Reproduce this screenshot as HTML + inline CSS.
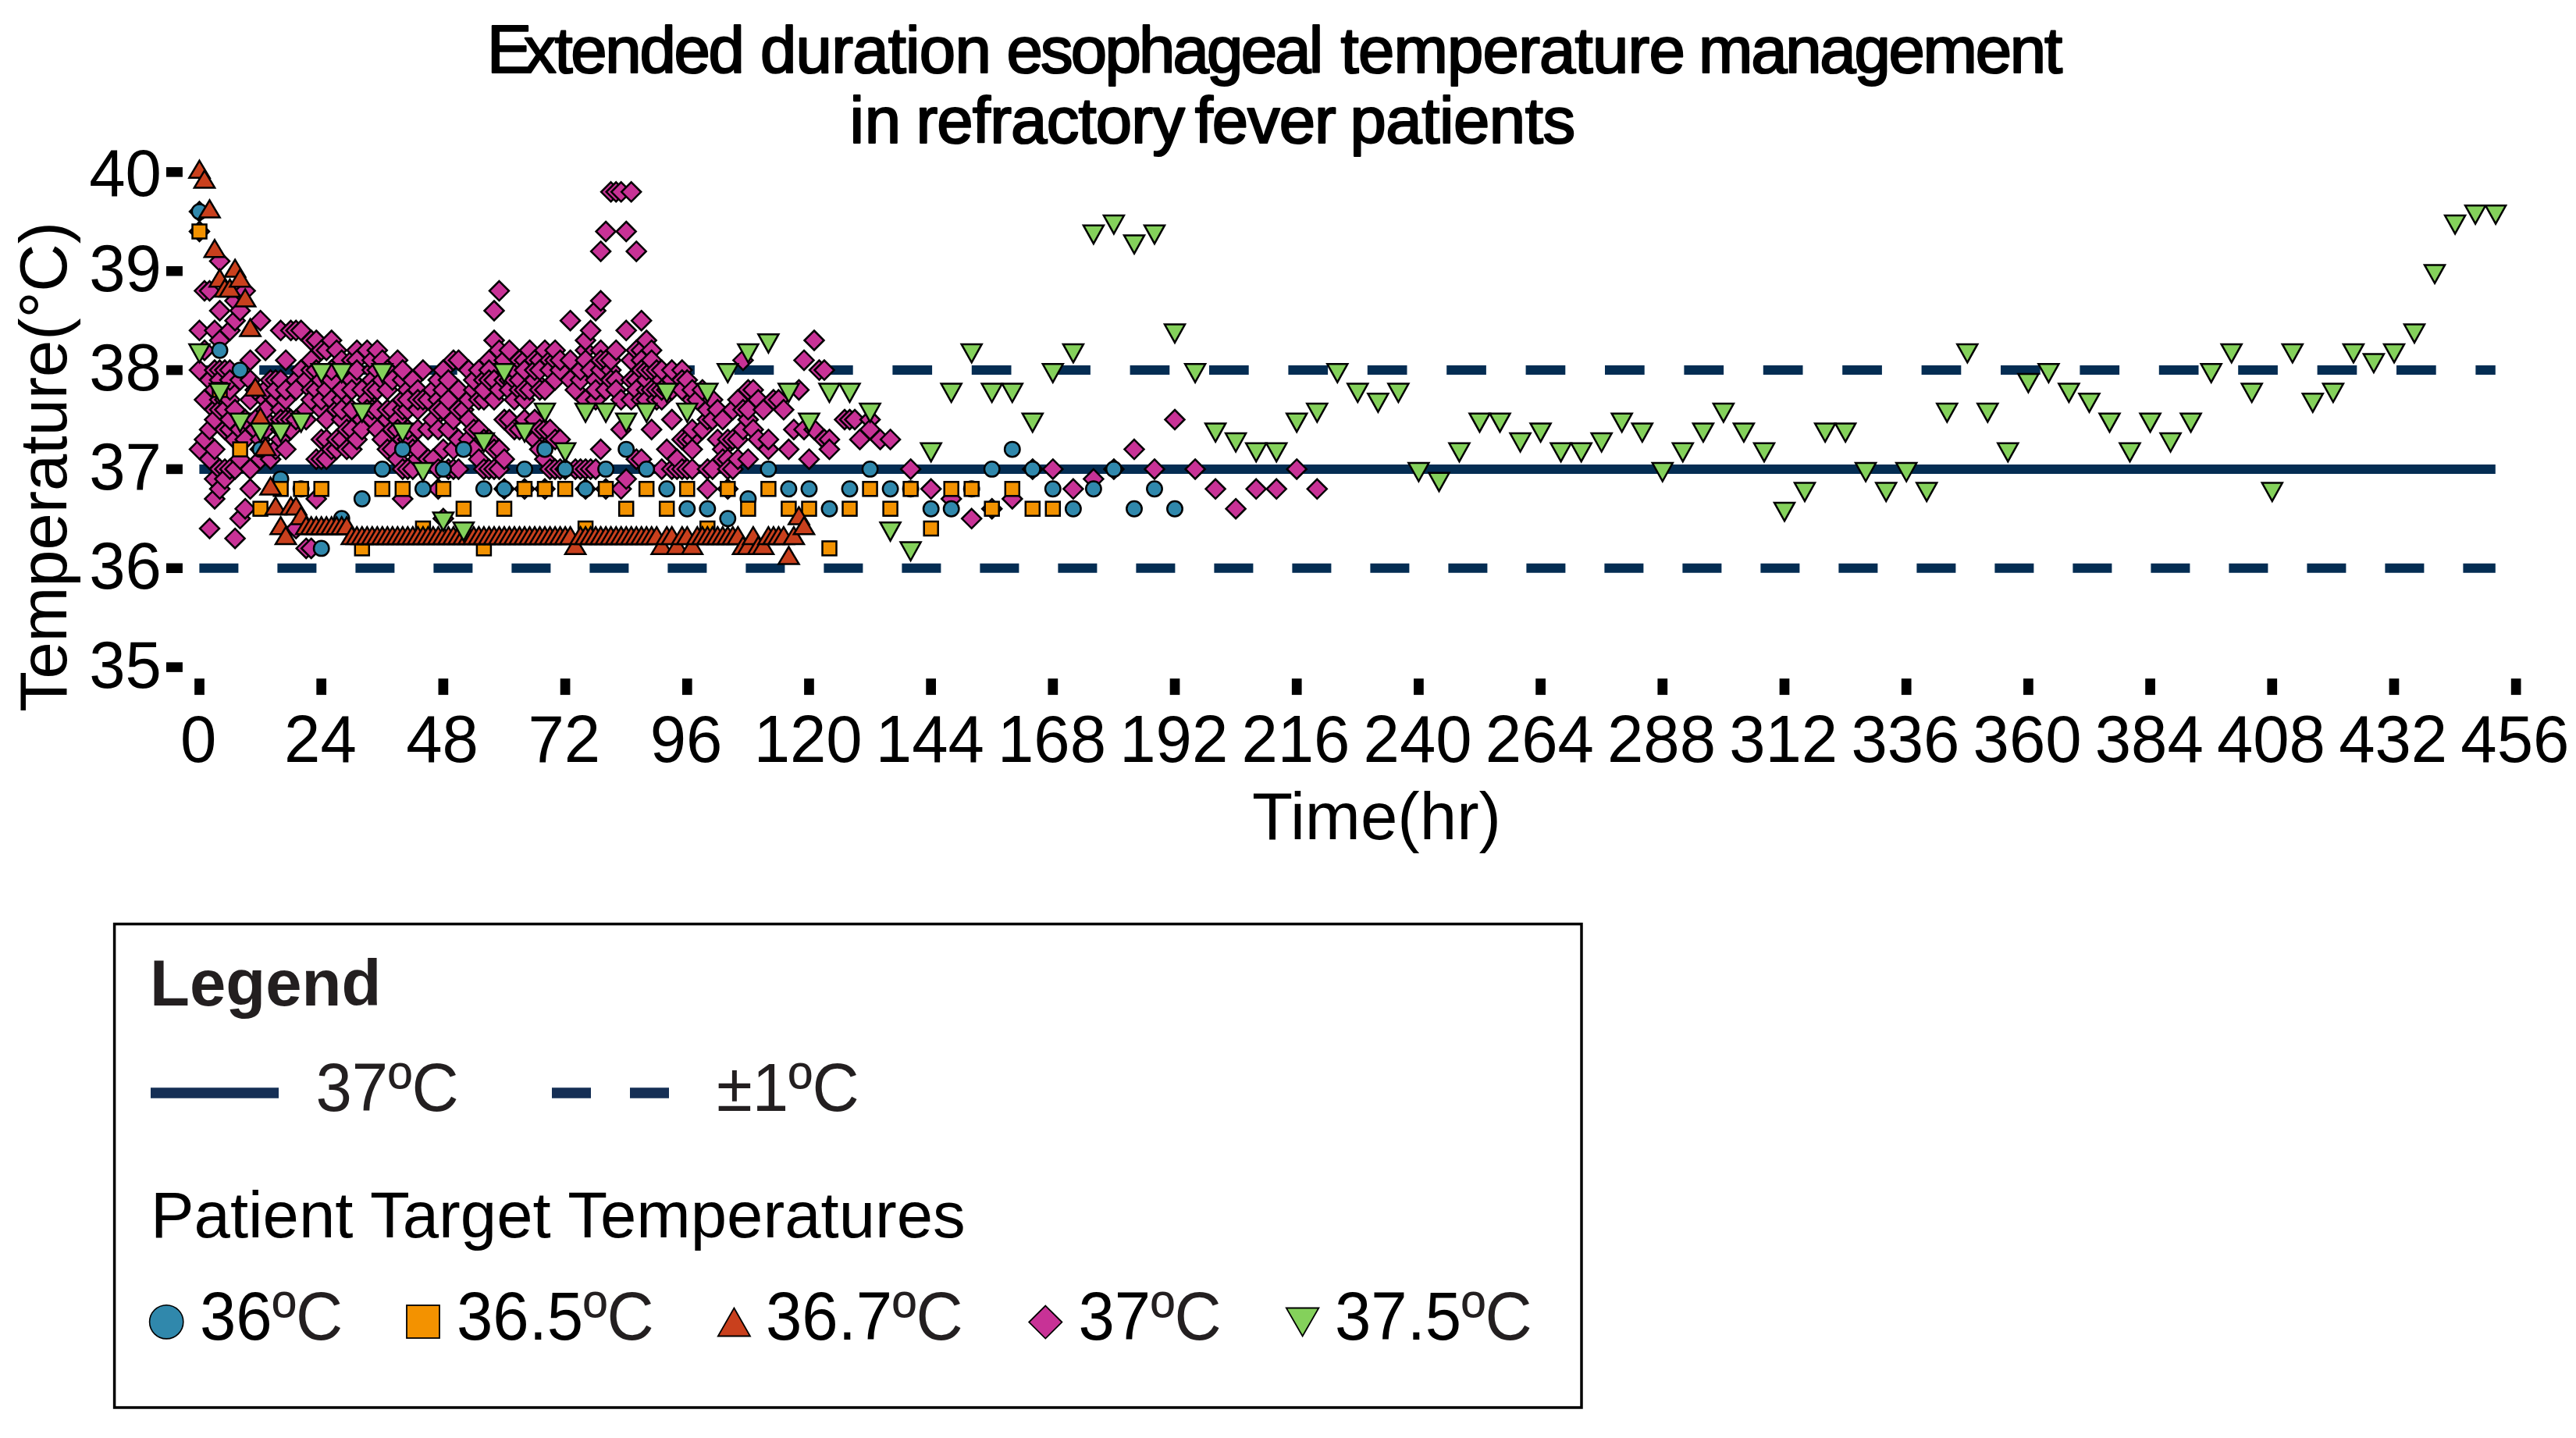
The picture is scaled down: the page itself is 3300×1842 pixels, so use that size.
<!DOCTYPE html><html><head><meta charset="utf-8"><title>chart</title><style>html,body{margin:0;padding:0;background:#fff;overflow:hidden}svg{display:block}</style></head><body style="margin:0;padding:0;background:#fff">
<svg width="3300" height="1842" viewBox="0 0 3300 1842" style="display:block" font-family="'Liberation Sans', sans-serif">
<rect width="3300" height="1842" fill="#fff"/>
<defs><path id="d" d="M0-12.5L12.5 0L0 12.5L-12.5 0Z" fill="#C83296" stroke="#000" stroke-width="2.5"/><circle id="c" r="9.7" fill="#3088AC" stroke="#000" stroke-width="2.5"/><rect id="s" x="-9" y="-9" width="18" height="18" fill="#F39200" stroke="#000" stroke-width="2.5"/><path id="u" d="M0-14.6L13.1 7.3L-13.1 7.3Z" fill="#C9401D" stroke="#000" stroke-width="2.5" stroke-linejoin="miter"/><path id="g" d="M0 15.6L13-7.8L-13-7.8Z" fill="#84D15B" stroke="#000" stroke-width="2.5" stroke-linejoin="miter"/></defs>
<g font-size="83.33" fill="#000" stroke="#000" stroke-width="2.2" stroke-linejoin="round">
<text x="623.8000000000001" y="93.2" font-size="86.6">E</text>
<text x="671.1" y="93.2" letter-spacing="-2.3">xtended</text>
<text x="974" y="93.2" letter-spacing="-0.77">duration</text>
<text x="1289.4" y="93.2" letter-spacing="-2.78">esophageal</text>
<text x="1717.6" y="93.2" letter-spacing="-0.81">temperature</text>
<text x="2176" y="93.2" letter-spacing="-2.26">management</text>
<text x="1088.4" y="183.3" letter-spacing="0.86">in</text>
<text x="1173.4" y="183.3" letter-spacing="-0.82">refractory</text>
<text x="1530.8" y="183.3" letter-spacing="-1.09">fever</text>
<text x="1729.5" y="183.3" letter-spacing="-0.47">patients</text>
</g>
<g fill="#000">
<rect x="213" y="848.35" width="20.9" height="12.5" />
<rect x="213" y="721.51" width="20.9" height="12.5" />
<rect x="213" y="594.67" width="20.9" height="12.5" />
<rect x="213" y="467.83" width="20.9" height="12.5" />
<rect x="213" y="340.99" width="20.9" height="12.5" />
<rect x="213" y="214.15" width="20.9" height="12.5" />
<rect x="249.15" y="869.2" width="12.7" height="20.9" />
<rect x="405.34" y="869.2" width="12.7" height="20.9" />
<rect x="561.53" y="869.2" width="12.7" height="20.9" />
<rect x="717.73" y="869.2" width="12.7" height="20.9" />
<rect x="873.92" y="869.2" width="12.7" height="20.9" />
<rect x="1030.11" y="869.2" width="12.7" height="20.9" />
<rect x="1186.3" y="869.2" width="12.7" height="20.9" />
<rect x="1342.49" y="869.2" width="12.7" height="20.9" />
<rect x="1498.69" y="869.2" width="12.7" height="20.9" />
<rect x="1654.88" y="869.2" width="12.7" height="20.9" />
<rect x="1811.07" y="869.2" width="12.7" height="20.9" />
<rect x="1967.26" y="869.2" width="12.7" height="20.9" />
<rect x="2123.45" y="869.2" width="12.7" height="20.9" />
<rect x="2279.65" y="869.2" width="12.7" height="20.9" />
<rect x="2435.84" y="869.2" width="12.7" height="20.9" />
<rect x="2592.03" y="869.2" width="12.7" height="20.9" />
<rect x="2748.22" y="869.2" width="12.7" height="20.9" />
<rect x="2904.41" y="869.2" width="12.7" height="20.9" />
<rect x="3060.61" y="869.2" width="12.7" height="20.9" />
<rect x="3216.8" y="869.2" width="12.7" height="20.9" />
</g>
<g font-size="83.33" fill="#000">
<text transform="translate(206.9,880.8) scale(1,1.03)" text-anchor="end">35</text>
<text transform="translate(206.9,753.96) scale(1,1.03)" text-anchor="end">36</text>
<text transform="translate(206.9,627.12) scale(1,1.03)" text-anchor="end">37</text>
<text transform="translate(206.9,500.28) scale(1,1.03)" text-anchor="end">38</text>
<text transform="translate(206.9,373.44) scale(1,1.03)" text-anchor="end">39</text>
<text transform="translate(206.9,251.05) scale(1,1.03)" text-anchor="end">40</text>
<text transform="translate(254.2,975.8) scale(1,1.03)" text-anchor="middle">0</text>
<text transform="translate(410.39,975.8) scale(1,1.03)" text-anchor="middle">24</text>
<text transform="translate(566.58,975.8) scale(1,1.03)" text-anchor="middle">48</text>
<text transform="translate(722.78,975.8) scale(1,1.03)" text-anchor="middle">72</text>
<text transform="translate(878.97,975.8) scale(1,1.03)" text-anchor="middle">96</text>
<text transform="translate(1035.16,975.8) scale(1,1.03)" text-anchor="middle">120</text>
<text transform="translate(1191.35,975.8) scale(1,1.03)" text-anchor="middle">144</text>
<text transform="translate(1347.54,975.8) scale(1,1.03)" text-anchor="middle">168</text>
<text transform="translate(1503.74,975.8) scale(1,1.03)" text-anchor="middle">192</text>
<text transform="translate(1659.93,975.8) scale(1,1.03)" text-anchor="middle">216</text>
<text transform="translate(1816.12,975.8) scale(1,1.03)" text-anchor="middle">240</text>
<text transform="translate(1972.31,975.8) scale(1,1.03)" text-anchor="middle">264</text>
<text transform="translate(2128.5,975.8) scale(1,1.03)" text-anchor="middle">288</text>
<text transform="translate(2284.7,975.8) scale(1,1.03)" text-anchor="middle">312</text>
<text transform="translate(2440.89,975.8) scale(1,1.03)" text-anchor="middle">336</text>
<text transform="translate(2597.08,975.8) scale(1,1.03)" text-anchor="middle">360</text>
<text transform="translate(2753.27,975.8) scale(1,1.03)" text-anchor="middle">384</text>
<text transform="translate(2909.46,975.8) scale(1,1.03)" text-anchor="middle">408</text>
<text transform="translate(3065.66,975.8) scale(1,1.03)" text-anchor="middle">432</text>
<text transform="translate(3221.85,975.8) scale(1,1.03)" text-anchor="middle">456</text>
</g>
<text font-size="85.3" x="1763.5" y="1074.5" text-anchor="middle" fill="#000">Time(hr)</text>
<text font-size="85" transform="translate(85,912) rotate(-90)" fill="#000" textLength="628" lengthAdjust="spacing">Temperature(°C)</text>
<g stroke="#042D53" stroke-width="12" fill="none">
<line x1="255.4" x2="3196.8" y1="600.92" y2="600.92"/>
<line x1="255.4" x2="3196.8" y1="474.08" y2="474.08" stroke-dasharray="50.7 50.7" stroke-dashoffset="24.6"/>
<line x1="255.4" x2="3196.8" y1="727.76" y2="727.76" stroke-dasharray="50 50"/>
</g>
<g>
<use href="#d" x="255.5" y="575.6"/>
<use href="#d" x="255.5" y="474.1"/>
<use href="#d" x="255.5" y="271.1"/>
<use href="#d" x="255.5" y="423.3"/>
<use href="#d" x="255.5" y="296.5"/>
<use href="#d" x="262" y="562.9"/>
<use href="#d" x="262" y="512.1"/>
<use href="#d" x="262" y="448.7"/>
<use href="#d" x="262" y="372.6"/>
<use href="#d" x="268.5" y="550.2"/>
<use href="#d" x="268.5" y="588.2"/>
<use href="#d" x="268.5" y="372.6"/>
<use href="#d" x="268.5" y="677"/>
<use href="#d" x="268.5" y="486.8"/>
<use href="#d" x="275" y="423.3"/>
<use href="#d" x="275" y="524.8"/>
<use href="#d" x="275" y="474.1"/>
<use href="#d" x="275" y="499.4"/>
<use href="#d" x="275" y="639"/>
<use href="#d" x="275" y="537.5"/>
<use href="#d" x="275" y="613.6"/>
<use href="#d" x="275" y="575.6"/>
<use href="#d" x="281.5" y="626.3"/>
<use href="#d" x="281.5" y="474.1"/>
<use href="#d" x="281.5" y="436"/>
<use href="#d" x="281.5" y="600.9"/>
<use href="#d" x="281.5" y="486.8"/>
<use href="#d" x="281.5" y="334.6"/>
<use href="#d" x="281.5" y="512.1"/>
<use href="#d" x="281.5" y="524.8"/>
<use href="#d" x="281.5" y="398"/>
<use href="#d" x="288" y="600.9"/>
<use href="#d" x="288" y="512.1"/>
<use href="#d" x="288" y="613.6"/>
<use href="#d" x="288" y="550.2"/>
<use href="#d" x="288" y="474.1"/>
<use href="#d" x="288" y="524.8"/>
<use href="#d" x="294.5" y="512.1"/>
<use href="#d" x="294.5" y="423.3"/>
<use href="#d" x="294.5" y="600.9"/>
<use href="#d" x="294.5" y="499.4"/>
<use href="#d" x="294.5" y="474.1"/>
<use href="#d" x="294.5" y="550.2"/>
<use href="#d" x="294.5" y="486.8"/>
<use href="#d" x="294.5" y="537.5"/>
<use href="#d" x="301.1" y="689.7"/>
<use href="#d" x="301.1" y="600.9"/>
<use href="#d" x="301.1" y="385.3"/>
<use href="#d" x="301.1" y="524.8"/>
<use href="#d" x="301.1" y="562.9"/>
<use href="#d" x="301.1" y="410.7"/>
<use href="#d" x="307.6" y="550.2"/>
<use href="#d" x="307.6" y="398"/>
<use href="#d" x="307.6" y="486.8"/>
<use href="#d" x="307.6" y="664.3"/>
<use href="#d" x="307.6" y="588.2"/>
<use href="#d" x="307.6" y="372.6"/>
<use href="#d" x="314.1" y="562.9"/>
<use href="#d" x="314.1" y="537.5"/>
<use href="#d" x="314.1" y="651.7"/>
<use href="#d" x="314.1" y="372.6"/>
<use href="#d" x="320.6" y="486.8"/>
<use href="#d" x="320.6" y="626.3"/>
<use href="#d" x="320.6" y="512.1"/>
<use href="#d" x="320.6" y="600.9"/>
<use href="#d" x="320.6" y="461.4"/>
<use href="#d" x="327.1" y="550.2"/>
<use href="#d" x="327.1" y="499.4"/>
<use href="#d" x="327.1" y="537.5"/>
<use href="#d" x="333.6" y="410.7"/>
<use href="#d" x="333.6" y="575.6"/>
<use href="#d" x="333.6" y="588.2"/>
<use href="#d" x="333.6" y="562.9"/>
<use href="#d" x="340.1" y="537.5"/>
<use href="#d" x="340.1" y="512.1"/>
<use href="#d" x="340.1" y="499.4"/>
<use href="#d" x="340.1" y="448.7"/>
<use href="#d" x="340.1" y="550.2"/>
<use href="#d" x="340.1" y="524.8"/>
<use href="#d" x="340.1" y="575.6"/>
<use href="#d" x="346.6" y="588.2"/>
<use href="#d" x="346.6" y="486.8"/>
<use href="#d" x="353.1" y="512.1"/>
<use href="#d" x="353.1" y="575.6"/>
<use href="#d" x="353.1" y="486.8"/>
<use href="#d" x="353.1" y="499.4"/>
<use href="#d" x="359.6" y="486.8"/>
<use href="#d" x="359.6" y="524.8"/>
<use href="#d" x="359.6" y="562.9"/>
<use href="#d" x="359.6" y="537.5"/>
<use href="#d" x="359.6" y="550.2"/>
<use href="#d" x="359.6" y="423.3"/>
<use href="#d" x="366.1" y="537.5"/>
<use href="#d" x="366.1" y="575.6"/>
<use href="#d" x="366.1" y="461.4"/>
<use href="#d" x="366.1" y="512.1"/>
<use href="#d" x="366.1" y="499.4"/>
<use href="#d" x="372.6" y="423.3"/>
<use href="#d" x="372.6" y="537.5"/>
<use href="#d" x="372.6" y="550.2"/>
<use href="#d" x="379.2" y="423.3"/>
<use href="#d" x="379.2" y="486.8"/>
<use href="#d" x="379.2" y="499.4"/>
<use href="#d" x="379.2" y="537.5"/>
<use href="#d" x="379.2" y="677"/>
<use href="#d" x="385.7" y="474.1"/>
<use href="#d" x="385.7" y="423.3"/>
<use href="#d" x="392.2" y="702.4"/>
<use href="#d" x="392.2" y="486.8"/>
<use href="#d" x="392.2" y="537.5"/>
<use href="#d" x="392.2" y="524.8"/>
<use href="#d" x="398.7" y="436"/>
<use href="#d" x="398.7" y="474.1"/>
<use href="#d" x="398.7" y="461.4"/>
<use href="#d" x="398.7" y="499.4"/>
<use href="#d" x="398.7" y="702.4"/>
<use href="#d" x="398.7" y="512.1"/>
<use href="#d" x="405.2" y="639"/>
<use href="#d" x="405.2" y="436"/>
<use href="#d" x="405.2" y="588.2"/>
<use href="#d" x="405.2" y="474.1"/>
<use href="#d" x="405.2" y="499.4"/>
<use href="#d" x="411.7" y="448.7"/>
<use href="#d" x="411.7" y="524.8"/>
<use href="#d" x="411.7" y="588.2"/>
<use href="#d" x="411.7" y="486.8"/>
<use href="#d" x="411.7" y="512.1"/>
<use href="#d" x="411.7" y="562.9"/>
<use href="#d" x="418.2" y="537.5"/>
<use href="#d" x="418.2" y="448.7"/>
<use href="#d" x="418.2" y="499.4"/>
<use href="#d" x="418.2" y="588.2"/>
<use href="#d" x="418.2" y="562.9"/>
<use href="#d" x="424.7" y="512.1"/>
<use href="#d" x="424.7" y="486.8"/>
<use href="#d" x="424.7" y="474.1"/>
<use href="#d" x="424.7" y="575.6"/>
<use href="#d" x="424.7" y="436"/>
<use href="#d" x="431.2" y="524.8"/>
<use href="#d" x="431.2" y="575.6"/>
<use href="#d" x="431.2" y="448.7"/>
<use href="#d" x="431.2" y="562.9"/>
<use href="#d" x="437.7" y="512.1"/>
<use href="#d" x="437.7" y="537.5"/>
<use href="#d" x="437.7" y="562.9"/>
<use href="#d" x="437.7" y="499.4"/>
<use href="#d" x="437.7" y="524.8"/>
<use href="#d" x="437.7" y="461.4"/>
<use href="#d" x="444.2" y="474.1"/>
<use href="#d" x="444.2" y="575.6"/>
<use href="#d" x="444.2" y="550.2"/>
<use href="#d" x="450.7" y="486.8"/>
<use href="#d" x="450.7" y="550.2"/>
<use href="#d" x="450.7" y="461.4"/>
<use href="#d" x="450.7" y="499.4"/>
<use href="#d" x="450.7" y="575.6"/>
<use href="#d" x="450.7" y="524.8"/>
<use href="#d" x="457.2" y="448.7"/>
<use href="#d" x="457.2" y="562.9"/>
<use href="#d" x="457.2" y="461.4"/>
<use href="#d" x="457.2" y="474.1"/>
<use href="#d" x="463.8" y="537.5"/>
<use href="#d" x="463.8" y="550.2"/>
<use href="#d" x="463.8" y="499.4"/>
<use href="#d" x="470.3" y="512.1"/>
<use href="#d" x="470.3" y="448.7"/>
<use href="#d" x="470.3" y="524.8"/>
<use href="#d" x="476.8" y="537.5"/>
<use href="#d" x="476.8" y="474.1"/>
<use href="#d" x="476.8" y="524.8"/>
<use href="#d" x="476.8" y="486.8"/>
<use href="#d" x="476.8" y="461.4"/>
<use href="#d" x="476.8" y="499.4"/>
<use href="#d" x="483.3" y="474.1"/>
<use href="#d" x="483.3" y="550.2"/>
<use href="#d" x="483.3" y="448.7"/>
<use href="#d" x="483.3" y="499.4"/>
<use href="#d" x="483.3" y="524.8"/>
<use href="#d" x="489.8" y="461.4"/>
<use href="#d" x="489.8" y="562.9"/>
<use href="#d" x="489.8" y="486.8"/>
<use href="#d" x="496.3" y="474.1"/>
<use href="#d" x="496.3" y="537.5"/>
<use href="#d" x="496.3" y="575.6"/>
<use href="#d" x="496.3" y="499.4"/>
<use href="#d" x="496.3" y="524.8"/>
<use href="#d" x="502.8" y="524.8"/>
<use href="#d" x="502.8" y="575.6"/>
<use href="#d" x="502.8" y="486.8"/>
<use href="#d" x="502.8" y="550.2"/>
<use href="#d" x="509.3" y="537.5"/>
<use href="#d" x="509.3" y="550.2"/>
<use href="#d" x="509.3" y="588.2"/>
<use href="#d" x="509.3" y="461.4"/>
<use href="#d" x="515.8" y="600.9"/>
<use href="#d" x="515.8" y="486.8"/>
<use href="#d" x="515.8" y="524.8"/>
<use href="#d" x="515.8" y="639"/>
<use href="#d" x="515.8" y="512.1"/>
<use href="#d" x="515.8" y="474.1"/>
<use href="#d" x="515.8" y="562.9"/>
<use href="#d" x="522.3" y="600.9"/>
<use href="#d" x="522.3" y="499.4"/>
<use href="#d" x="522.3" y="562.9"/>
<use href="#d" x="522.3" y="524.8"/>
<use href="#d" x="522.3" y="512.1"/>
<use href="#d" x="522.3" y="550.2"/>
<use href="#d" x="528.8" y="486.8"/>
<use href="#d" x="528.8" y="600.9"/>
<use href="#d" x="528.8" y="575.6"/>
<use href="#d" x="535.3" y="499.4"/>
<use href="#d" x="535.3" y="588.2"/>
<use href="#d" x="535.3" y="524.8"/>
<use href="#d" x="535.3" y="550.2"/>
<use href="#d" x="535.3" y="575.6"/>
<use href="#d" x="535.3" y="512.1"/>
<use href="#d" x="541.9" y="474.1"/>
<use href="#d" x="541.9" y="512.1"/>
<use href="#d" x="548.4" y="588.2"/>
<use href="#d" x="548.4" y="550.2"/>
<use href="#d" x="548.4" y="512.1"/>
<use href="#d" x="554.9" y="499.4"/>
<use href="#d" x="554.9" y="588.2"/>
<use href="#d" x="554.9" y="537.5"/>
<use href="#d" x="561.4" y="512.1"/>
<use href="#d" x="561.4" y="600.9"/>
<use href="#d" x="561.4" y="486.8"/>
<use href="#d" x="561.4" y="626.3"/>
<use href="#d" x="561.4" y="550.2"/>
<use href="#d" x="561.4" y="524.8"/>
<use href="#d" x="567.9" y="499.4"/>
<use href="#d" x="567.9" y="575.6"/>
<use href="#d" x="567.9" y="524.8"/>
<use href="#d" x="567.9" y="474.1"/>
<use href="#d" x="567.9" y="664.3"/>
<use href="#d" x="574.4" y="486.8"/>
<use href="#d" x="574.4" y="550.2"/>
<use href="#d" x="574.4" y="600.9"/>
<use href="#d" x="574.4" y="512.1"/>
<use href="#d" x="580.9" y="461.4"/>
<use href="#d" x="580.9" y="537.5"/>
<use href="#d" x="580.9" y="575.6"/>
<use href="#d" x="580.9" y="600.9"/>
<use href="#d" x="587.4" y="524.8"/>
<use href="#d" x="587.4" y="562.9"/>
<use href="#d" x="587.4" y="461.4"/>
<use href="#d" x="587.4" y="499.4"/>
<use href="#d" x="587.4" y="600.9"/>
<use href="#d" x="593.9" y="524.8"/>
<use href="#d" x="600.4" y="512.1"/>
<use href="#d" x="600.4" y="537.5"/>
<use href="#d" x="600.4" y="474.1"/>
<use href="#d" x="600.4" y="562.9"/>
<use href="#d" x="606.9" y="575.6"/>
<use href="#d" x="606.9" y="499.4"/>
<use href="#d" x="606.9" y="550.2"/>
<use href="#d" x="606.9" y="486.8"/>
<use href="#d" x="613.4" y="588.2"/>
<use href="#d" x="613.4" y="474.1"/>
<use href="#d" x="613.4" y="550.2"/>
<use href="#d" x="613.4" y="512.1"/>
<use href="#d" x="619.9" y="600.9"/>
<use href="#d" x="619.9" y="512.1"/>
<use href="#d" x="619.9" y="486.8"/>
<use href="#d" x="619.9" y="499.4"/>
<use href="#d" x="619.9" y="562.9"/>
<use href="#d" x="626.5" y="461.4"/>
<use href="#d" x="626.5" y="474.1"/>
<use href="#d" x="626.5" y="600.9"/>
<use href="#d" x="626.5" y="486.8"/>
<use href="#d" x="626.5" y="562.9"/>
<use href="#d" x="633" y="512.1"/>
<use href="#d" x="633" y="600.9"/>
<use href="#d" x="633" y="486.8"/>
<use href="#d" x="633" y="575.6"/>
<use href="#d" x="633" y="436"/>
<use href="#d" x="633" y="398"/>
<use href="#d" x="639.5" y="499.4"/>
<use href="#d" x="639.5" y="600.9"/>
<use href="#d" x="639.5" y="372.6"/>
<use href="#d" x="639.5" y="575.6"/>
<use href="#d" x="639.5" y="448.7"/>
<use href="#d" x="646" y="537.5"/>
<use href="#d" x="646" y="588.2"/>
<use href="#d" x="646" y="461.4"/>
<use href="#d" x="646" y="626.3"/>
<use href="#d" x="646" y="486.8"/>
<use href="#d" x="652.5" y="448.7"/>
<use href="#d" x="652.5" y="486.8"/>
<use href="#d" x="652.5" y="537.5"/>
<use href="#d" x="652.5" y="499.4"/>
<use href="#d" x="659" y="486.8"/>
<use href="#d" x="659" y="550.2"/>
<use href="#d" x="659" y="512.1"/>
<use href="#d" x="659" y="474.1"/>
<use href="#d" x="665.5" y="461.4"/>
<use href="#d" x="665.5" y="499.4"/>
<use href="#d" x="665.5" y="550.2"/>
<use href="#d" x="665.5" y="486.8"/>
<use href="#d" x="672" y="537.5"/>
<use href="#d" x="672" y="461.4"/>
<use href="#d" x="672" y="474.1"/>
<use href="#d" x="672" y="626.3"/>
<use href="#d" x="672" y="512.1"/>
<use href="#d" x="672" y="499.4"/>
<use href="#d" x="678.5" y="550.2"/>
<use href="#d" x="678.5" y="499.4"/>
<use href="#d" x="678.5" y="448.7"/>
<use href="#d" x="685" y="461.4"/>
<use href="#d" x="685" y="562.9"/>
<use href="#d" x="685" y="486.8"/>
<use href="#d" x="685" y="537.5"/>
<use href="#d" x="685" y="474.1"/>
<use href="#d" x="691.5" y="575.6"/>
<use href="#d" x="691.5" y="461.4"/>
<use href="#d" x="691.5" y="550.2"/>
<use href="#d" x="691.5" y="499.4"/>
<use href="#d" x="691.5" y="474.1"/>
<use href="#d" x="698" y="626.3"/>
<use href="#d" x="698" y="499.4"/>
<use href="#d" x="698" y="550.2"/>
<use href="#d" x="698" y="588.2"/>
<use href="#d" x="698" y="448.7"/>
<use href="#d" x="704.6" y="461.4"/>
<use href="#d" x="704.6" y="550.2"/>
<use href="#d" x="704.6" y="474.1"/>
<use href="#d" x="704.6" y="600.9"/>
<use href="#d" x="711.1" y="562.9"/>
<use href="#d" x="711.1" y="486.8"/>
<use href="#d" x="711.1" y="600.9"/>
<use href="#d" x="711.1" y="461.4"/>
<use href="#d" x="711.1" y="448.7"/>
<use href="#d" x="717.6" y="600.9"/>
<use href="#d" x="717.6" y="474.1"/>
<use href="#d" x="717.6" y="461.4"/>
<use href="#d" x="717.6" y="562.9"/>
<use href="#d" x="724.1" y="600.9"/>
<use href="#d" x="730.6" y="486.8"/>
<use href="#d" x="730.6" y="410.7"/>
<use href="#d" x="730.6" y="461.4"/>
<use href="#d" x="737.1" y="499.4"/>
<use href="#d" x="737.1" y="600.9"/>
<use href="#d" x="743.6" y="486.8"/>
<use href="#d" x="743.6" y="474.1"/>
<use href="#d" x="743.6" y="600.9"/>
<use href="#d" x="750.1" y="448.7"/>
<use href="#d" x="750.1" y="512.1"/>
<use href="#d" x="750.1" y="461.4"/>
<use href="#d" x="750.1" y="600.9"/>
<use href="#d" x="750.1" y="436"/>
<use href="#d" x="750.1" y="626.3"/>
<use href="#d" x="756.6" y="600.9"/>
<use href="#d" x="756.6" y="423.3"/>
<use href="#d" x="756.6" y="474.1"/>
<use href="#d" x="763.1" y="600.9"/>
<use href="#d" x="763.1" y="398"/>
<use href="#d" x="763.1" y="486.8"/>
<use href="#d" x="763.1" y="512.1"/>
<use href="#d" x="763.1" y="499.4"/>
<use href="#d" x="769.6" y="448.7"/>
<use href="#d" x="769.6" y="575.6"/>
<use href="#d" x="769.6" y="321.9"/>
<use href="#d" x="769.6" y="474.1"/>
<use href="#d" x="769.6" y="461.4"/>
<use href="#d" x="769.6" y="385.3"/>
<use href="#d" x="776.1" y="626.3"/>
<use href="#d" x="776.1" y="499.4"/>
<use href="#d" x="776.1" y="296.5"/>
<use href="#d" x="776.1" y="461.4"/>
<use href="#d" x="782.6" y="474.1"/>
<use href="#d" x="782.6" y="245.8"/>
<use href="#d" x="782.6" y="486.8"/>
<use href="#d" x="782.6" y="461.4"/>
<use href="#d" x="789.2" y="448.7"/>
<use href="#d" x="789.2" y="245.8"/>
<use href="#d" x="789.2" y="486.8"/>
<use href="#d" x="789.2" y="499.4"/>
<use href="#d" x="795.7" y="245.8"/>
<use href="#d" x="795.7" y="626.3"/>
<use href="#d" x="795.7" y="550.2"/>
<use href="#d" x="795.7" y="512.1"/>
<use href="#d" x="802.2" y="296.5"/>
<use href="#d" x="802.2" y="613.6"/>
<use href="#d" x="802.2" y="423.3"/>
<use href="#d" x="808.7" y="461.4"/>
<use href="#d" x="808.7" y="512.1"/>
<use href="#d" x="808.7" y="486.8"/>
<use href="#d" x="808.7" y="245.8"/>
<use href="#d" x="815.2" y="321.9"/>
<use href="#d" x="815.2" y="486.8"/>
<use href="#d" x="815.2" y="499.4"/>
<use href="#d" x="815.2" y="448.7"/>
<use href="#d" x="815.2" y="588.2"/>
<use href="#d" x="821.7" y="410.7"/>
<use href="#d" x="821.7" y="448.7"/>
<use href="#d" x="821.7" y="512.1"/>
<use href="#d" x="821.7" y="461.4"/>
<use href="#d" x="821.7" y="588.2"/>
<use href="#d" x="821.7" y="474.1"/>
<use href="#d" x="828.2" y="436"/>
<use href="#d" x="828.2" y="499.4"/>
<use href="#d" x="828.2" y="512.1"/>
<use href="#d" x="828.2" y="486.8"/>
<use href="#d" x="828.2" y="474.1"/>
<use href="#d" x="834.7" y="448.7"/>
<use href="#d" x="834.7" y="550.2"/>
<use href="#d" x="834.7" y="499.4"/>
<use href="#d" x="834.7" y="474.1"/>
<use href="#d" x="834.7" y="461.4"/>
<use href="#d" x="841.2" y="512.1"/>
<use href="#d" x="841.2" y="499.4"/>
<use href="#d" x="841.2" y="474.1"/>
<use href="#d" x="847.7" y="512.1"/>
<use href="#d" x="847.7" y="486.8"/>
<use href="#d" x="847.7" y="499.4"/>
<use href="#d" x="847.7" y="474.1"/>
<use href="#d" x="847.7" y="600.9"/>
<use href="#d" x="854.2" y="499.4"/>
<use href="#d" x="854.2" y="575.6"/>
<use href="#d" x="860.7" y="537.5"/>
<use href="#d" x="860.7" y="499.4"/>
<use href="#d" x="860.7" y="486.8"/>
<use href="#d" x="860.7" y="474.1"/>
<use href="#d" x="860.7" y="600.9"/>
<use href="#d" x="867.3" y="600.9"/>
<use href="#d" x="867.3" y="588.2"/>
<use href="#d" x="873.8" y="474.1"/>
<use href="#d" x="873.8" y="486.8"/>
<use href="#d" x="873.8" y="600.9"/>
<use href="#d" x="873.8" y="562.9"/>
<use href="#d" x="873.8" y="499.4"/>
<use href="#d" x="880.3" y="600.9"/>
<use href="#d" x="880.3" y="562.9"/>
<use href="#d" x="880.3" y="486.8"/>
<use href="#d" x="886.8" y="562.9"/>
<use href="#d" x="886.8" y="512.1"/>
<use href="#d" x="886.8" y="575.6"/>
<use href="#d" x="886.8" y="550.2"/>
<use href="#d" x="886.8" y="600.9"/>
<use href="#d" x="886.8" y="499.4"/>
<use href="#d" x="893.3" y="512.1"/>
<use href="#d" x="899.8" y="499.4"/>
<use href="#d" x="899.8" y="550.2"/>
<use href="#d" x="906.3" y="537.5"/>
<use href="#d" x="906.3" y="626.3"/>
<use href="#d" x="906.3" y="600.9"/>
<use href="#d" x="906.3" y="524.8"/>
<use href="#d" x="912.8" y="537.5"/>
<use href="#d" x="912.8" y="600.9"/>
<use href="#d" x="912.8" y="512.1"/>
<use href="#d" x="919.3" y="562.9"/>
<use href="#d" x="919.3" y="524.8"/>
<use href="#d" x="925.8" y="537.5"/>
<use href="#d" x="925.8" y="575.6"/>
<use href="#d" x="925.8" y="588.2"/>
<use href="#d" x="932.3" y="626.3"/>
<use href="#d" x="932.3" y="562.9"/>
<use href="#d" x="932.3" y="588.2"/>
<use href="#d" x="932.3" y="600.9"/>
<use href="#d" x="938.8" y="524.8"/>
<use href="#d" x="938.8" y="600.9"/>
<use href="#d" x="938.8" y="562.9"/>
<use href="#d" x="945.3" y="562.9"/>
<use href="#d" x="945.3" y="588.2"/>
<use href="#d" x="945.3" y="512.1"/>
<use href="#d" x="951.9" y="461.4"/>
<use href="#d" x="951.9" y="524.8"/>
<use href="#d" x="951.9" y="550.2"/>
<use href="#d" x="958.4" y="499.4"/>
<use href="#d" x="958.4" y="537.5"/>
<use href="#d" x="958.4" y="588.2"/>
<use href="#d" x="958.4" y="524.8"/>
<use href="#d" x="964.9" y="550.2"/>
<use href="#d" x="964.9" y="499.4"/>
<use href="#d" x="971.4" y="512.1"/>
<use href="#d" x="971.4" y="562.9"/>
<use href="#d" x="977.9" y="524.8"/>
<use href="#d" x="984.4" y="575.6"/>
<use href="#d" x="984.4" y="562.9"/>
<use href="#d" x="990.9" y="512.1"/>
<use href="#d" x="997.4" y="512.1"/>
<use href="#d" x="1003.9" y="524.8"/>
<use href="#d" x="1010.4" y="575.6"/>
<use href="#d" x="1016.9" y="550.2"/>
<use href="#d" x="1023.4" y="499.4"/>
<use href="#d" x="1030" y="461.4"/>
<use href="#d" x="1030" y="550.2"/>
<use href="#d" x="1036.5" y="588.2"/>
<use href="#d" x="1043" y="550.2"/>
<use href="#d" x="1043" y="436"/>
<use href="#d" x="1049.5" y="474.1"/>
<use href="#d" x="1056" y="562.9"/>
<use href="#d" x="1056" y="474.1"/>
<use href="#d" x="1062.5" y="562.9"/>
<use href="#d" x="1062.5" y="575.6"/>
<use href="#d" x="1082" y="537.5"/>
<use href="#d" x="1088.5" y="537.5"/>
<use href="#d" x="1095" y="537.5"/>
<use href="#d" x="1101.5" y="562.9"/>
<use href="#d" x="1114.6" y="537.5"/>
<use href="#d" x="1114.6" y="550.2"/>
<use href="#d" x="1127.6" y="562.9"/>
<use href="#d" x="1140.6" y="562.9"/>
<use href="#d" x="1166.6" y="600.9"/>
<use href="#d" x="1192.7" y="626.3"/>
<use href="#d" x="1218.7" y="639"/>
<use href="#d" x="1244.7" y="664.3"/>
<use href="#d" x="1270.7" y="651.7"/>
<use href="#d" x="1296.8" y="639"/>
<use href="#d" x="1322.8" y="600.9"/>
<use href="#d" x="1348.8" y="600.9"/>
<use href="#d" x="1374.9" y="626.3"/>
<use href="#d" x="1400.9" y="613.6"/>
<use href="#d" x="1426.9" y="600.9"/>
<use href="#d" x="1453" y="575.6"/>
<use href="#d" x="1479" y="600.9"/>
<use href="#d" x="1505" y="537.5"/>
<use href="#d" x="1531.1" y="600.9"/>
<use href="#d" x="1557.1" y="626.3"/>
<use href="#d" x="1583.1" y="651.7"/>
<use href="#d" x="1609.2" y="626.3"/>
<use href="#d" x="1635.2" y="626.3"/>
<use href="#d" x="1661.2" y="600.9"/>
<use href="#d" x="1687.3" y="626.3"/>
</g><g>
<use href="#c" x="255.5" y="271.1"/>
<use href="#c" x="281.5" y="448.7"/>
<use href="#c" x="307.6" y="474.1"/>
<use href="#c" x="333.6" y="575.6"/>
<use href="#c" x="359.6" y="613.6"/>
<use href="#c" x="385.7" y="626.3"/>
<use href="#c" x="411.7" y="702.4"/>
<use href="#c" x="437.7" y="664.3"/>
<use href="#c" x="463.8" y="639"/>
<use href="#c" x="489.8" y="600.9"/>
<use href="#c" x="515.8" y="575.6"/>
<use href="#c" x="541.9" y="626.3"/>
<use href="#c" x="567.9" y="600.9"/>
<use href="#c" x="593.9" y="575.6"/>
<use href="#c" x="619.9" y="626.3"/>
<use href="#c" x="646" y="626.3"/>
<use href="#c" x="672" y="600.9"/>
<use href="#c" x="698" y="575.6"/>
<use href="#c" x="724.1" y="600.9"/>
<use href="#c" x="750.1" y="626.3"/>
<use href="#c" x="776.1" y="600.9"/>
<use href="#c" x="802.2" y="575.6"/>
<use href="#c" x="828.2" y="600.9"/>
<use href="#c" x="854.2" y="626.3"/>
<use href="#c" x="880.3" y="651.7"/>
<use href="#c" x="906.3" y="651.7"/>
<use href="#c" x="932.3" y="664.3"/>
<use href="#c" x="958.4" y="639"/>
<use href="#c" x="984.4" y="600.9"/>
<use href="#c" x="1010.4" y="626.3"/>
<use href="#c" x="1036.5" y="626.3"/>
<use href="#c" x="1062.5" y="651.7"/>
<use href="#c" x="1088.5" y="626.3"/>
<use href="#c" x="1114.6" y="600.9"/>
<use href="#c" x="1140.6" y="626.3"/>
<use href="#c" x="1166.6" y="626.3"/>
<use href="#c" x="1192.7" y="651.7"/>
<use href="#c" x="1218.7" y="651.7"/>
<use href="#c" x="1244.7" y="626.3"/>
<use href="#c" x="1270.7" y="600.9"/>
<use href="#c" x="1296.8" y="575.6"/>
<use href="#c" x="1322.8" y="600.9"/>
<use href="#c" x="1348.8" y="626.3"/>
<use href="#c" x="1374.9" y="651.7"/>
<use href="#c" x="1400.9" y="626.3"/>
<use href="#c" x="1426.9" y="600.9"/>
<use href="#c" x="1453" y="651.7"/>
<use href="#c" x="1479" y="626.3"/>
<use href="#c" x="1505" y="651.7"/>
</g><g>
<use href="#s" x="255.5" y="296.5"/>
<use href="#s" x="281.5" y="499.4"/>
<use href="#s" x="307.6" y="575.6"/>
<use href="#s" x="333.6" y="651.7"/>
<use href="#s" x="359.6" y="626.3"/>
<use href="#s" x="385.7" y="626.3"/>
<use href="#s" x="411.7" y="626.3"/>
<use href="#s" x="463.8" y="702.4"/>
<use href="#s" x="489.8" y="626.3"/>
<use href="#s" x="515.8" y="626.3"/>
<use href="#s" x="541.9" y="677"/>
<use href="#s" x="567.9" y="626.3"/>
<use href="#s" x="593.9" y="651.7"/>
<use href="#s" x="619.9" y="702.4"/>
<use href="#s" x="646" y="651.7"/>
<use href="#s" x="672" y="626.3"/>
<use href="#s" x="698" y="626.3"/>
<use href="#s" x="724.1" y="626.3"/>
<use href="#s" x="750.1" y="677"/>
<use href="#s" x="776.1" y="626.3"/>
<use href="#s" x="802.2" y="651.7"/>
<use href="#s" x="828.2" y="626.3"/>
<use href="#s" x="854.2" y="651.7"/>
<use href="#s" x="880.3" y="626.3"/>
<use href="#s" x="906.3" y="677"/>
<use href="#s" x="932.3" y="626.3"/>
<use href="#s" x="958.4" y="651.7"/>
<use href="#s" x="984.4" y="626.3"/>
<use href="#s" x="1010.4" y="651.7"/>
<use href="#s" x="1036.5" y="651.7"/>
<use href="#s" x="1062.5" y="702.4"/>
<use href="#s" x="1088.5" y="651.7"/>
<use href="#s" x="1114.6" y="626.3"/>
<use href="#s" x="1140.6" y="651.7"/>
<use href="#s" x="1166.6" y="626.3"/>
<use href="#s" x="1192.7" y="677"/>
<use href="#s" x="1218.7" y="626.3"/>
<use href="#s" x="1244.7" y="626.3"/>
<use href="#s" x="1270.7" y="651.7"/>
<use href="#s" x="1296.8" y="626.3"/>
<use href="#s" x="1322.8" y="651.7"/>
<use href="#s" x="1348.8" y="651.7"/>
</g><g>
<use href="#u" x="255.5" y="220.4"/>
<use href="#u" x="262" y="233.1"/>
<use href="#u" x="268.5" y="271.1"/>
<use href="#u" x="275" y="321.9"/>
<use href="#u" x="281.5" y="359.9"/>
<use href="#u" x="288" y="372.6"/>
<use href="#u" x="294.5" y="372.6"/>
<use href="#u" x="301.1" y="347.2"/>
<use href="#u" x="307.6" y="359.9"/>
<use href="#u" x="314.1" y="385.3"/>
<use href="#u" x="320.6" y="423.3"/>
<use href="#u" x="327.1" y="499.4"/>
<use href="#u" x="333.6" y="537.5"/>
<use href="#u" x="340.1" y="575.6"/>
<use href="#u" x="346.6" y="626.3"/>
<use href="#u" x="353.1" y="651.7"/>
<use href="#u" x="359.6" y="677"/>
<use href="#u" x="366.1" y="689.7"/>
<use href="#u" x="372.6" y="651.7"/>
<use href="#u" x="379.2" y="651.7"/>
<use href="#u" x="385.7" y="664.3"/>
<use href="#u" x="392.2" y="677"/>
<use href="#u" x="398.7" y="677"/>
<use href="#u" x="405.2" y="677"/>
<use href="#u" x="411.7" y="677"/>
<use href="#u" x="418.2" y="677"/>
<use href="#u" x="424.7" y="677"/>
<use href="#u" x="431.2" y="677"/>
<use href="#u" x="437.7" y="677"/>
<use href="#u" x="444.2" y="677"/>
<use href="#u" x="450.7" y="689.7"/>
<use href="#u" x="457.2" y="689.7"/>
<use href="#u" x="463.8" y="689.7"/>
<use href="#u" x="470.3" y="689.7"/>
<use href="#u" x="476.8" y="689.7"/>
<use href="#u" x="483.3" y="689.7"/>
<use href="#u" x="489.8" y="689.7"/>
<use href="#u" x="496.3" y="689.7"/>
<use href="#u" x="502.8" y="689.7"/>
<use href="#u" x="509.3" y="689.7"/>
<use href="#u" x="515.8" y="689.7"/>
<use href="#u" x="522.3" y="689.7"/>
<use href="#u" x="528.8" y="689.7"/>
<use href="#u" x="535.3" y="689.7"/>
<use href="#u" x="541.9" y="689.7"/>
<use href="#u" x="548.4" y="689.7"/>
<use href="#u" x="554.9" y="689.7"/>
<use href="#u" x="561.4" y="689.7"/>
<use href="#u" x="567.9" y="689.7"/>
<use href="#u" x="574.4" y="689.7"/>
<use href="#u" x="580.9" y="689.7"/>
<use href="#u" x="587.4" y="689.7"/>
<use href="#u" x="593.9" y="689.7"/>
<use href="#u" x="600.4" y="689.7"/>
<use href="#u" x="606.9" y="689.7"/>
<use href="#u" x="613.4" y="689.7"/>
<use href="#u" x="619.9" y="689.7"/>
<use href="#u" x="626.5" y="689.7"/>
<use href="#u" x="633" y="689.7"/>
<use href="#u" x="639.5" y="689.7"/>
<use href="#u" x="646" y="689.7"/>
<use href="#u" x="652.5" y="689.7"/>
<use href="#u" x="659" y="689.7"/>
<use href="#u" x="665.5" y="689.7"/>
<use href="#u" x="672" y="689.7"/>
<use href="#u" x="678.5" y="689.7"/>
<use href="#u" x="685" y="689.7"/>
<use href="#u" x="691.5" y="689.7"/>
<use href="#u" x="698" y="689.7"/>
<use href="#u" x="704.6" y="689.7"/>
<use href="#u" x="711.1" y="689.7"/>
<use href="#u" x="717.6" y="689.7"/>
<use href="#u" x="724.1" y="689.7"/>
<use href="#u" x="730.6" y="689.7"/>
<use href="#u" x="737.1" y="702.4"/>
<use href="#u" x="743.6" y="689.7"/>
<use href="#u" x="750.1" y="689.7"/>
<use href="#u" x="756.6" y="689.7"/>
<use href="#u" x="763.1" y="689.7"/>
<use href="#u" x="769.6" y="689.7"/>
<use href="#u" x="776.1" y="689.7"/>
<use href="#u" x="782.6" y="689.7"/>
<use href="#u" x="789.2" y="689.7"/>
<use href="#u" x="795.7" y="689.7"/>
<use href="#u" x="802.2" y="689.7"/>
<use href="#u" x="808.7" y="689.7"/>
<use href="#u" x="815.2" y="689.7"/>
<use href="#u" x="821.7" y="689.7"/>
<use href="#u" x="828.2" y="689.7"/>
<use href="#u" x="834.7" y="689.7"/>
<use href="#u" x="841.2" y="689.7"/>
<use href="#u" x="847.7" y="702.4"/>
<use href="#u" x="854.2" y="689.7"/>
<use href="#u" x="860.7" y="689.7"/>
<use href="#u" x="867.3" y="702.4"/>
<use href="#u" x="873.8" y="689.7"/>
<use href="#u" x="880.3" y="689.7"/>
<use href="#u" x="886.8" y="702.4"/>
<use href="#u" x="893.3" y="689.7"/>
<use href="#u" x="899.8" y="689.7"/>
<use href="#u" x="906.3" y="689.7"/>
<use href="#u" x="912.8" y="689.7"/>
<use href="#u" x="919.3" y="689.7"/>
<use href="#u" x="925.8" y="689.7"/>
<use href="#u" x="932.3" y="689.7"/>
<use href="#u" x="938.8" y="689.7"/>
<use href="#u" x="945.3" y="689.7"/>
<use href="#u" x="951.9" y="702.4"/>
<use href="#u" x="958.4" y="702.4"/>
<use href="#u" x="964.9" y="689.7"/>
<use href="#u" x="971.4" y="702.4"/>
<use href="#u" x="977.9" y="702.4"/>
<use href="#u" x="984.4" y="689.7"/>
<use href="#u" x="990.9" y="689.7"/>
<use href="#u" x="997.4" y="689.7"/>
<use href="#u" x="1003.9" y="689.7"/>
<use href="#u" x="1010.4" y="715.1"/>
<use href="#u" x="1016.9" y="689.7"/>
<use href="#u" x="1023.4" y="664.3"/>
<use href="#u" x="1030" y="677"/>
</g><g>
<use href="#g" x="255.5" y="448.7"/>
<use href="#g" x="281.5" y="499.4"/>
<use href="#g" x="307.6" y="537.5"/>
<use href="#g" x="333.6" y="550.2"/>
<use href="#g" x="359.6" y="550.2"/>
<use href="#g" x="385.7" y="537.5"/>
<use href="#g" x="411.7" y="474.1"/>
<use href="#g" x="437.7" y="474.1"/>
<use href="#g" x="463.8" y="524.8"/>
<use href="#g" x="489.8" y="474.1"/>
<use href="#g" x="515.8" y="550.2"/>
<use href="#g" x="541.9" y="600.9"/>
<use href="#g" x="567.9" y="664.3"/>
<use href="#g" x="593.9" y="677"/>
<use href="#g" x="619.9" y="562.9"/>
<use href="#g" x="646" y="474.1"/>
<use href="#g" x="672" y="550.2"/>
<use href="#g" x="698" y="524.8"/>
<use href="#g" x="724.1" y="575.6"/>
<use href="#g" x="750.1" y="524.8"/>
<use href="#g" x="776.1" y="524.8"/>
<use href="#g" x="802.2" y="537.5"/>
<use href="#g" x="828.2" y="524.8"/>
<use href="#g" x="854.2" y="499.4"/>
<use href="#g" x="880.3" y="524.8"/>
<use href="#g" x="906.3" y="499.4"/>
<use href="#g" x="932.3" y="474.1"/>
<use href="#g" x="958.4" y="448.7"/>
<use href="#g" x="984.4" y="436"/>
<use href="#g" x="1010.4" y="499.4"/>
<use href="#g" x="1036.5" y="537.5"/>
<use href="#g" x="1062.5" y="499.4"/>
<use href="#g" x="1088.5" y="499.4"/>
<use href="#g" x="1114.6" y="524.8"/>
<use href="#g" x="1140.6" y="677"/>
<use href="#g" x="1166.6" y="702.4"/>
<use href="#g" x="1192.7" y="575.6"/>
<use href="#g" x="1218.7" y="499.4"/>
<use href="#g" x="1244.7" y="448.7"/>
<use href="#g" x="1270.7" y="499.4"/>
<use href="#g" x="1296.8" y="499.4"/>
<use href="#g" x="1322.8" y="537.5"/>
<use href="#g" x="1348.8" y="474.1"/>
<use href="#g" x="1374.9" y="448.7"/>
<use href="#g" x="1400.9" y="296.5"/>
<use href="#g" x="1426.9" y="283.8"/>
<use href="#g" x="1453" y="309.2"/>
<use href="#g" x="1479" y="296.5"/>
<use href="#g" x="1505" y="423.3"/>
<use href="#g" x="1531.1" y="474.1"/>
<use href="#g" x="1557.1" y="550.2"/>
<use href="#g" x="1583.1" y="562.9"/>
<use href="#g" x="1609.2" y="575.6"/>
<use href="#g" x="1635.2" y="575.6"/>
<use href="#g" x="1661.2" y="537.5"/>
<use href="#g" x="1687.3" y="524.8"/>
<use href="#g" x="1713.3" y="474.1"/>
<use href="#g" x="1739.3" y="499.4"/>
<use href="#g" x="1765.4" y="512.1"/>
<use href="#g" x="1791.4" y="499.4"/>
<use href="#g" x="1817.4" y="600.9"/>
<use href="#g" x="1843.5" y="613.6"/>
<use href="#g" x="1869.5" y="575.6"/>
<use href="#g" x="1895.5" y="537.5"/>
<use href="#g" x="1921.5" y="537.5"/>
<use href="#g" x="1947.6" y="562.9"/>
<use href="#g" x="1973.6" y="550.2"/>
<use href="#g" x="1999.6" y="575.6"/>
<use href="#g" x="2025.7" y="575.6"/>
<use href="#g" x="2051.7" y="562.9"/>
<use href="#g" x="2077.7" y="537.5"/>
<use href="#g" x="2103.8" y="550.2"/>
<use href="#g" x="2129.8" y="600.9"/>
<use href="#g" x="2155.8" y="575.6"/>
<use href="#g" x="2181.9" y="550.2"/>
<use href="#g" x="2207.9" y="524.8"/>
<use href="#g" x="2233.9" y="550.2"/>
<use href="#g" x="2260" y="575.6"/>
<use href="#g" x="2286" y="651.7"/>
<use href="#g" x="2312" y="626.3"/>
<use href="#g" x="2338.1" y="550.2"/>
<use href="#g" x="2364.1" y="550.2"/>
<use href="#g" x="2390.1" y="600.9"/>
<use href="#g" x="2416.2" y="626.3"/>
<use href="#g" x="2442.2" y="600.9"/>
<use href="#g" x="2468.2" y="626.3"/>
<use href="#g" x="2494.3" y="524.8"/>
<use href="#g" x="2520.3" y="448.7"/>
<use href="#g" x="2546.3" y="524.8"/>
<use href="#g" x="2572.3" y="575.6"/>
<use href="#g" x="2598.4" y="486.8"/>
<use href="#g" x="2624.4" y="474.1"/>
<use href="#g" x="2650.4" y="499.4"/>
<use href="#g" x="2676.5" y="512.1"/>
<use href="#g" x="2702.5" y="537.5"/>
<use href="#g" x="2728.5" y="575.6"/>
<use href="#g" x="2754.6" y="537.5"/>
<use href="#g" x="2780.6" y="562.9"/>
<use href="#g" x="2806.6" y="537.5"/>
<use href="#g" x="2832.7" y="474.1"/>
<use href="#g" x="2858.7" y="448.7"/>
<use href="#g" x="2884.7" y="499.4"/>
<use href="#g" x="2910.8" y="626.3"/>
<use href="#g" x="2936.8" y="448.7"/>
<use href="#g" x="2962.8" y="512.1"/>
<use href="#g" x="2988.9" y="499.4"/>
<use href="#g" x="3014.9" y="448.7"/>
<use href="#g" x="3040.9" y="461.4"/>
<use href="#g" x="3067" y="448.7"/>
<use href="#g" x="3093" y="423.3"/>
<use href="#g" x="3119" y="347.2"/>
<use href="#g" x="3145.1" y="283.8"/>
<use href="#g" x="3171.1" y="271.1"/>
<use href="#g" x="3197.1" y="271.1"/>
</g>
<rect x="146.6" y="1183.6" width="1879.4" height="619.4" fill="none" stroke="#000" stroke-width="3.5"/>
<g font-size="83.33" fill="#231F20">
<text x="192" y="1288" font-weight="bold">Legend</text>
<text transform="translate(404.5,1422.6) scale(1,1.04)">37ºC</text>
<text transform="translate(918,1422.6) scale(1,1.04)">±1ºC</text>
<text x="193" y="1585" fill="#000">Patient Target Temperatures</text>
<text transform="translate(256,1716) scale(1,1.04)"><tspan fill="#000">36</tspan>ºC</text>
<text transform="translate(585,1716) scale(1,1.04)"><tspan fill="#000">36.5</tspan>ºC</text>
<text transform="translate(981,1716) scale(1,1.04)"><tspan fill="#000">36.7</tspan>ºC</text>
<text transform="translate(1381.5,1716) scale(1,1.04)"><tspan fill="#000">37</tspan>ºC</text>
<text transform="translate(1710,1716) scale(1,1.04)"><tspan fill="#000">37.5</tspan>ºC</text>
</g>
<line x1="193" x2="357" y1="1400" y2="1400" stroke="#152F55" stroke-width="13.5"/>
<line x1="707" x2="757" y1="1400" y2="1400" stroke="#152F55" stroke-width="13.5"/>
<line x1="807" x2="857" y1="1400" y2="1400" stroke="#152F55" stroke-width="13.5"/>
<circle cx="213.2" cy="1693.3" r="21.6" fill="#3088AC" stroke="#000" stroke-width="1.6"/>
<rect x="521" y="1672" width="42" height="42" fill="#F39200" stroke="#000" stroke-width="1.8"/>
<path d="M940.4 1675.5L961 1711.5L919.8 1711.5Z" fill="#C9401D" stroke="#000" stroke-width="1.8"/>
<path d="M1339.3 1672.6L1360.4 1693.6L1339.3 1714.6L1318.2 1693.6Z" fill="#C83296" stroke="#000" stroke-width="1.8"/>
<path d="M1668.6 1711.5L1689.4 1675.5L1647.8 1675.5Z" fill="#84D15B" stroke="#000" stroke-width="1.8"/>
</svg></body></html>
